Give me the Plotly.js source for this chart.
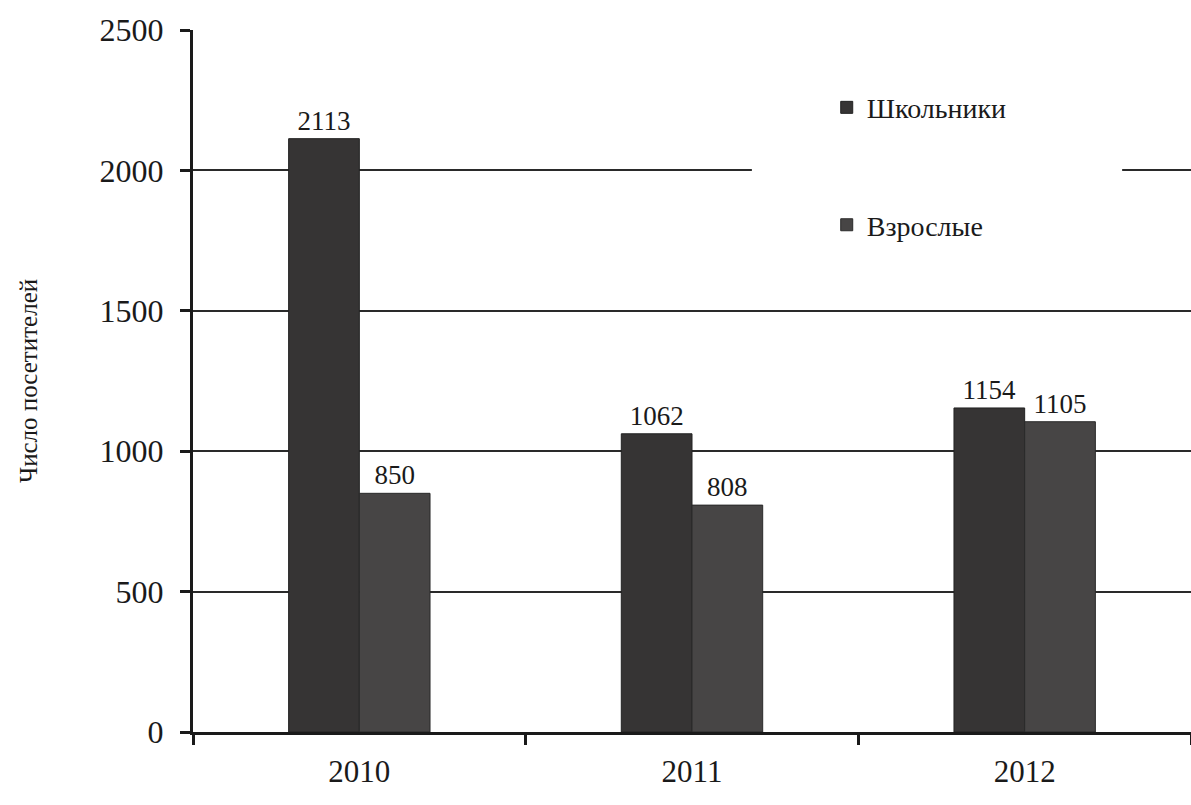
<!DOCTYPE html>
<html>
<head>
<meta charset="utf-8">
<script src="https://cdn.plot.ly/plotly-3.0.1.min.js"></script>
<style>html,body{margin:0;padding:0;background:#fff;}#chart{width:1191px;height:805px;}</style>
</head>
<body>
<div id="chart"></div>
<script>
const years = ['2010', '2011', '2012'];
const schoolchildren = [2113, 1062, 1154];
const adults = [850, 808, 1105];
const seriesNames = ['Школьники', 'Взрослые'];
const yTitle = 'Число посетителей';

const serif = 'Liberation Serif';

const traces = [
  {
    type: 'bar', name: seriesNames[0], x: years, y: schoolchildren,
    text: schoolchildren.map(String), textposition: 'outside', cliponaxis: false,
    textfont: {family: serif, size: 27, color: '#1a1a1a'},
    marker: {color: '#363434', line: {color: '#222', width: 1}},
    legendgroup: 'a'
  },
  {
    type: 'bar', name: seriesNames[1], x: years, y: adults,
    text: adults.map(String), textposition: 'outside', cliponaxis: false,
    textfont: {family: serif, size: 27, color: '#1a1a1a'},
    marker: {color: '#474545', line: {color: '#2a2a2a', width: 1}},
    legendgroup: 'b'
  }
];

const layout = {
  width: 1191, height: 805,
  margin: {l: 193, r: 0, t: 30, b: 73},
  paper_bgcolor: '#fff', plot_bgcolor: '#fff',
  font: {family: serif, color: '#1a1a1a'},
  barmode: 'group', bargap: 0.575, bargroupgap: 0,
  showlegend: true,
  legend: {
    x: 0.635, xanchor: 'left', y: 0.925, yanchor: 'top',
    bgcolor: 'rgba(0,0,0,0)', borderwidth: 0,
    font: {family: serif, size: 28, color: '#1a1a1a'},
    traceorder: 'grouped', tracegroupgap: 78
  },
  xaxis: {
    type: 'category', showgrid: false,
    showline: true, linecolor: '#1a1a1a', linewidth: 3,
    ticks: 'outside', tickson: 'boundaries', ticklen: 10, tickwidth: 3, tickcolor: '#1a1a1a',
    tickfont: {family: serif, size: 31, color: '#1a1a1a'},
    ticklabelstandoff: 10,
    fixedrange: true
  },
  yaxis: {
    range: [0, 2500], tickvals: [0, 500, 1000, 1500, 2000, 2500],
    showgrid: true, gridcolor: '#2a2a2a', gridwidth: 2,
    zeroline: false,
    showline: true, linecolor: '#1a1a1a', linewidth: 3,
    ticks: 'outside', ticklen: 10, tickwidth: 3, tickcolor: '#1a1a1a',
    tickfont: {family: serif, size: 32, color: '#1a1a1a'},
    ticklabelstandoff: 10,
    title: {text: yTitle, font: {family: serif, size: 25, color: '#1a1a1a'}, standoff: 55},
    fixedrange: true
  },
  shapes: [{
    type: 'rect', xref: 'paper', yref: 'y', layer: 'above',
    x0: 0.56, x1: 0.931, y0: 1850, y1: 2150,
    fillcolor: '#ffffff', line: {width: 0}
  }]
};

Plotly.newPlot('chart', traces, layout, {displayModeBar: false, staticPlot: true});
</script>
</body>
</html>
